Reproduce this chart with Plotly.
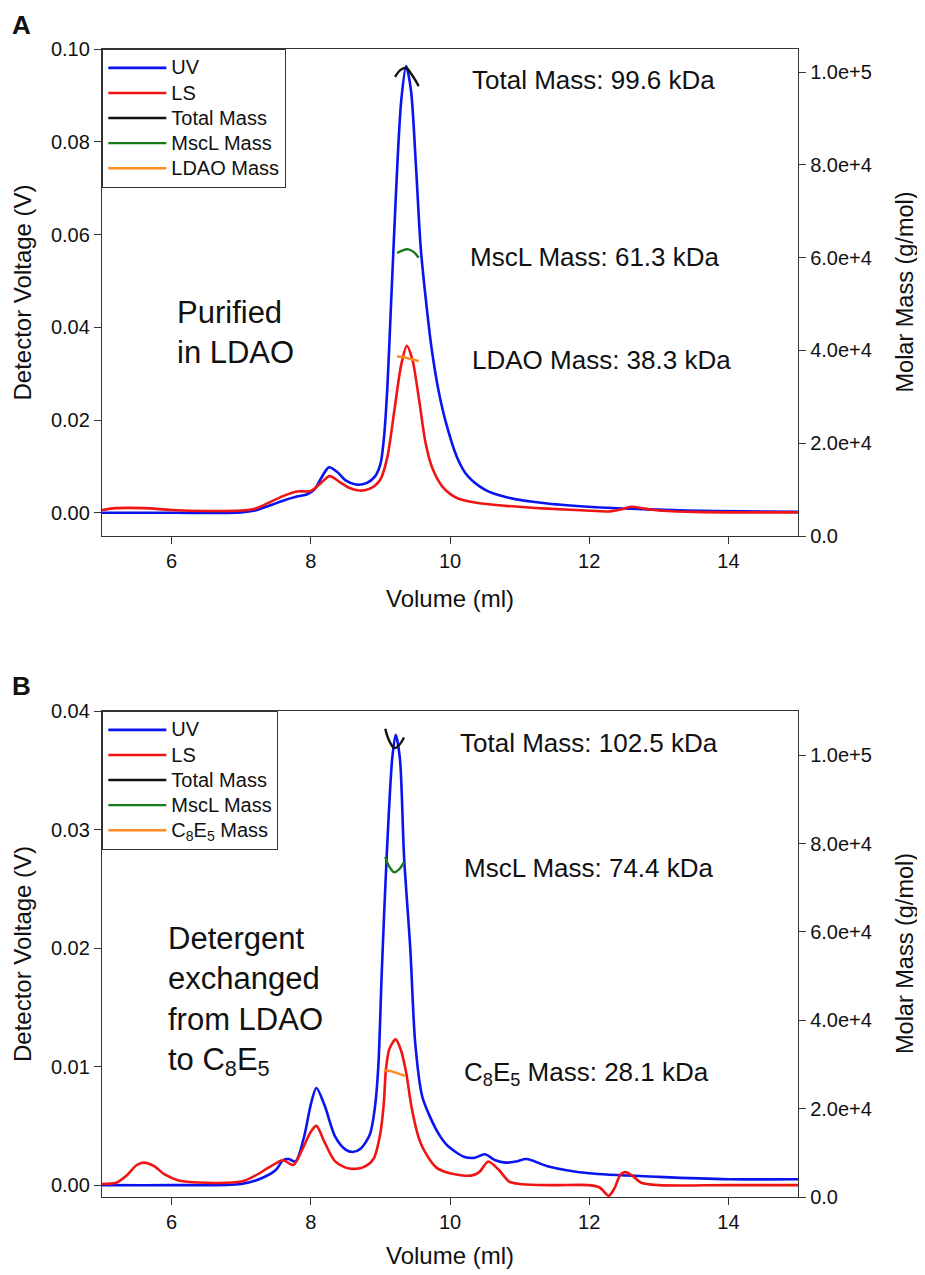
import plotly.graph_objects as go

# ---------------- Panel A data (Purified in LDAO) ----------------
A_vol_uv = [5.0, 6.0, 7.0, 7.2, 7.4, 7.6, 7.8, 7.95, 8.05, 8.15, 8.26, 8.38, 8.5, 8.65, 8.8, 8.92,
            9.0, 9.05, 9.1, 9.15, 9.2, 9.25, 9.3, 9.37, 9.44, 9.51, 9.58, 9.66, 9.74, 9.84, 9.95,
            10.1, 10.25, 10.5, 10.8, 11.4, 12.1, 12.75, 13.4, 14.2, 15.0]
A_uv = [0.0000, 0.0000, 0.0001, 0.0005, 0.0015, 0.0026, 0.0035, 0.0040, 0.0050, 0.0075, 0.0098,
        0.0088, 0.0070, 0.0061, 0.0064, 0.0078, 0.0105, 0.016, 0.027, 0.044, 0.061, 0.077, 0.089,
        0.0963, 0.091, 0.075, 0.057, 0.045, 0.035, 0.026, 0.019, 0.012, 0.0080, 0.0050, 0.0034,
        0.0020, 0.0012, 0.0008, 0.0005, 0.0003, 0.0002]

A_vol_ls = [5.0, 5.2, 5.6, 6.0, 6.5, 7.0, 7.2, 7.4, 7.6, 7.8, 8.0, 8.15, 8.27, 8.4, 8.55, 8.7, 8.85,
            9.0, 9.1, 9.2, 9.3, 9.38, 9.46, 9.55, 9.65, 9.75, 9.9, 10.1, 10.4, 10.8, 11.4, 12.1,
            12.3, 12.45, 12.6, 12.8, 13.0, 13.5, 14.2, 15.0]
A_ls = [0.0006, 0.0010, 0.0010, 0.0006, 0.0004, 0.0005, 0.0009, 0.0022, 0.0036, 0.0046, 0.0047,
        0.0065, 0.0079, 0.0068, 0.0054, 0.0048, 0.0052, 0.0072, 0.012, 0.022, 0.032, 0.036, 0.033,
        0.025, 0.015, 0.0095, 0.0055, 0.0032, 0.0021, 0.0015, 0.0009, 0.0004, 0.0003, 0.0007,
        0.0013, 0.0009, 0.0005, 0.0002, 0.0001, 0.0001]

A_vol_total = [9.21, 9.29, 9.37, 9.45, 9.55]
A_total = [99000, 100500, 100900, 99500, 97000]
A_vol_mscl = [9.24, 9.32, 9.40, 9.48, 9.55]
A_mscl = [61000, 61600, 61800, 61200, 60000]
A_vol_det = [9.24, 9.32, 9.40, 9.48, 9.55]
A_det = [38700, 38600, 38300, 38000, 37700]

# ---------------- Panel B data (exchanged to C8E5) ----------------
B_vol_uv = [5.0, 6.0, 7.0, 7.3, 7.5, 7.6, 7.68, 7.78, 7.9, 8.0, 8.08, 8.2, 8.35, 8.5, 8.6, 8.72,
            8.85, 8.92, 8.97, 9.02, 9.09, 9.17, 9.22, 9.28, 9.34, 9.43, 9.5, 9.6, 9.71, 9.85, 9.97,
            10.2, 10.35, 10.5, 10.65, 10.8, 10.95, 11.1, 11.4, 12.0, 13.0, 14.0, 15.0]
B_uv = [0.0000, 0.0000, 0.0001, 0.0006, 0.0013, 0.0021, 0.0022, 0.0020, 0.0040, 0.0068, 0.0082,
        0.0067, 0.0041, 0.0030, 0.0028, 0.0031, 0.0043, 0.0065, 0.0100, 0.0180, 0.0277, 0.0360,
        0.0380, 0.0360, 0.0277, 0.0199, 0.0120, 0.0075, 0.0058, 0.0042, 0.0033, 0.0024, 0.0023,
        0.0026, 0.0021, 0.0019, 0.0020, 0.0022, 0.0016, 0.0010, 0.0007, 0.0005, 0.0005]

B_vol_ls = [5.0, 5.2, 5.35, 5.5, 5.6, 5.75, 5.9, 6.1, 6.5, 7.0, 7.2, 7.4, 7.6, 7.75, 7.9, 8.0, 8.08,
            8.2, 8.35, 8.55, 8.75, 8.9, 9.0, 9.05, 9.08, 9.13, 9.22, 9.3, 9.37, 9.45, 9.55, 9.64,
            9.8, 10.0, 10.3, 10.42, 10.55, 10.7, 10.85, 11.0, 11.5, 12.0, 12.15, 12.28, 12.36,
            12.45, 12.52, 12.62, 12.75, 13.0, 14.0, 15.0]
B_ls = [0.0001, 0.0002, 0.0008, 0.0017, 0.0019, 0.0016, 0.0009, 0.0004, 0.0002, 0.0003, 0.0008,
        0.0015, 0.0021, 0.0017, 0.0033, 0.0045, 0.0050, 0.0036, 0.0020, 0.0014, 0.0015, 0.0022,
        0.0044, 0.0070, 0.0098, 0.0115, 0.0123, 0.0113, 0.0095, 0.0065, 0.0040, 0.0028, 0.0015,
        0.0010, 0.0008, 0.0011, 0.0020, 0.0013, 0.0003, 0.0001, 0.0000, 0.0000, -0.0002, -0.0009,
        -0.0003, 0.0009, 0.0011, 0.0008, 0.0002, 0.0000, 0.0000, 0.0000]

B_vol_total = [9.07, 9.12, 9.20, 9.27, 9.34]
B_total = [106000, 103500, 101600, 102300, 104000]
B_vol_mscl = [9.07, 9.12, 9.20, 9.27, 9.34]
B_mscl = [77000, 75000, 73500, 74200, 75800]
B_vol_det = [9.05, 9.15, 9.25, 9.35]
B_det = [28700, 28500, 28000, 27400]

# tick labels
x_ticks = [6, 8, 10, 12, 14]
A_left_ticks = [0.00, 0.02, 0.04, 0.06, 0.08, 0.10]
B_left_ticks = [0.00, 0.01, 0.02, 0.03, 0.04]
mass_ticks = [0, 20000, 40000, 60000, 80000, 100000]
mass_ticktext = ["0.0", "2.0e+4", "4.0e+4", "6.0e+4", "8.0e+4", "1.0e+5"]

# ---------------- figure ----------------
OFF = 8                      # default page margin of the html body
W, H = 925 - OFF, 1275 - OFF
FONT = "Liberation Sans, Arial, sans-serif"
BLUE, RED, BLACK, GREEN, ORANGE = "#0a14f0", "#f01414", "#111111", "#1b7a1b", "#ff8a1e"
AX = "#333333"


def px(x):
    return (x - OFF) / W


def py(y):
    return 1 - (y - OFF) / H


def leg(name):
    # legend text a little larger than the (compact) row spacing
    return '<span style="font-size:20px">' + name + "</span>"


fig = go.Figure()

panels = [
    dict(x="x", y="y", y2="y2", leg="legend",
         uv=(A_vol_uv, A_uv), ls=(A_vol_ls, A_ls),
         tot=(A_vol_total, A_total), mscl=(A_vol_mscl, A_mscl), det=(A_vol_det, A_det),
         detname="LDAO Mass"),
    dict(x="x2", y="y3", y2="y4", leg="legend2",
         uv=(B_vol_uv, B_uv), ls=(B_vol_ls, B_ls),
         tot=(B_vol_total, B_total), mscl=(B_vol_mscl, B_mscl), det=(B_vol_det, B_det),
         detname="C<sub>8</sub>E<sub>5</sub> Mass"),
]

for p in panels:
    fig.add_trace(go.Scatter(x=p["uv"][0], y=p["uv"][1], name=leg("UV"), mode="lines",
                             line=dict(color=BLUE, width=2.6, shape="spline", smoothing=0.8),
                             xaxis=p["x"], yaxis=p["y"], legend=p["leg"]))
    fig.add_trace(go.Scatter(x=p["ls"][0], y=p["ls"][1], name=leg("LS"), mode="lines",
                             line=dict(color=RED, width=2.6, shape="spline", smoothing=0.8),
                             xaxis=p["x"], yaxis=p["y"], legend=p["leg"]))
    fig.add_trace(go.Scatter(x=p["tot"][0], y=p["tot"][1], name=leg("Total Mass"), mode="lines",
                             line=dict(color=BLACK, width=2.4, shape="spline"),
                             xaxis=p["x"], yaxis=p["y2"], legend=p["leg"]))
    fig.add_trace(go.Scatter(x=p["mscl"][0], y=p["mscl"][1], name=leg("MscL Mass"), mode="lines",
                             line=dict(color=GREEN, width=2.4, shape="spline"),
                             xaxis=p["x"], yaxis=p["y2"], legend=p["leg"]))
    fig.add_trace(go.Scatter(x=p["det"][0], y=p["det"][1], name=leg(p["detname"]), mode="lines",
                             line=dict(color=ORANGE, width=2.4, shape="spline"),
                             xaxis=p["x"], yaxis=p["y2"], legend=p["leg"]))

xdom = [px(102), px(798)]
A_dom = [py(536), py(49)]
B_dom = [py(1197), py(711)]

tickfont = dict(family=FONT, size=20, color="#111")
common_x = dict(range=[5, 15], tickvals=x_ticks, ticks="outside", ticklen=7, tickcolor=AX,
                showline=True, linecolor=AX, linewidth=1.3, mirror=True, showgrid=False,
                zeroline=False, tickfont=tickfont, automargin=False, domain=xdom)
common_y = dict(ticks="outside", ticklen=7, tickcolor=AX, showline=True, linecolor=AX,
                linewidth=1.3, showgrid=False, zeroline=False, tickfont=tickfont,
                automargin=False)

legend_style = dict(xanchor="left", yanchor="top", bgcolor="white", bordercolor=AX,
                    borderwidth=1.3, font=dict(family=FONT, size=17, color="#111"),
                    tracegroupgap=0, itemwidth=58)

fig.update_layout(
    width=W, height=H, margin=dict(l=0, r=0, t=0, b=0),
    paper_bgcolor="white", plot_bgcolor="white",
    font=dict(family=FONT, color="#111"),
    showlegend=True,
    xaxis=dict(anchor="y", **common_x),
    yaxis=dict(anchor="x", domain=A_dom, range=[-0.005, 0.10], tickvals=A_left_ticks,
               tickformat=".2f", **common_y),
    yaxis2=dict(anchor="x", overlaying="y", side="right", range=[0, 105000],
                tickvals=mass_ticks, ticktext=mass_ticktext, **common_y),
    xaxis2=dict(anchor="y3", **common_x),
    yaxis3=dict(anchor="x2", domain=B_dom, range=[-0.001, 0.04], tickvals=B_left_ticks,
                tickformat=".2f", **common_y),
    yaxis4=dict(anchor="x2", overlaying="y3", side="right", range=[0, 110000],
                tickvals=mass_ticks, ticktext=mass_ticktext, **common_y),
    legend=dict(x=px(102), y=py(49), **legend_style),
    legend2=dict(x=px(102), y=py(711), **legend_style),
)

ann = []


def text(x, y, s, size, xanchor="left", yanchor="middle", angle=0, align="left"):
    ann.append(dict(x=px(x), y=py(y), xref="paper", yref="paper", text=s, showarrow=False,
                    xanchor=xanchor, yanchor=yanchor, textangle=angle, align=align,
                    font=dict(family=FONT, size=size, color="#111")))


# panel letters
text(10, 25, "<b>A</b>", 26)
text(10, 686, "<b>B</b>", 26)
# axis titles
for top, bot, xt in [(49, 536, 598), (711, 1197, 1255)]:
    mid = (top + bot) / 2
    text(22, mid, "Detector Voltage (V)", 24, xanchor="center", angle=-90)
    text(905, mid, "Molar Mass (g/mol)", 23.5, xanchor="center", angle=-90)
    text(450, xt, "Volume (ml)", 24, xanchor="center")

# mass annotations
MS = 26
text(470, 80, "Total Mass: 99.6 kDa", MS)
text(468, 257, "MscL Mass: 61.3 kDa", MS)
text(470, 360, "LDAO Mass: 38.3 kDa", MS)
text(458, 743, "Total Mass: 102.5 kDa", MS)
text(462, 868, "MscL Mass: 74.4 kDa", MS)
text(462, 1073, "C<sub>8</sub>E<sub>5</sub> Mass: 28.1 kDa", MS)

# sample descriptions
text(175, 332, "Purified<br>in LDAO", 31)
text(166, 1001, "Detergent<br>exchanged<br>from LDAO<br>to C<sub>8</sub>E<sub>5</sub>", 31)

fig.update_layout(annotations=ann)

fig.write_html("out.html")
